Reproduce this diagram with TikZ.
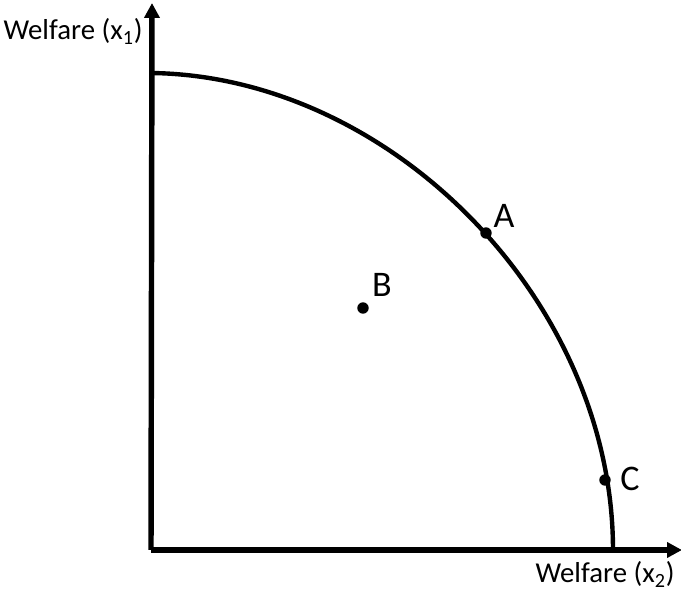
\documentclass[tikz,border=0pt]{standalone}
\usepackage{fontspec}
\setmainfont{Carlito}
\usetikzlibrary{arrows.meta}

\begin{document}
\begin{tikzpicture}[x=0.02cm, y=0.02cm,
  axis/.style={line width=3.1pt, -{Triangle[length=8.5pt,width=8.5pt]}},
  frontier/.style={line width=2.5pt},
  dot/.style={circle, fill, inner sep=0pt, minimum size=6.5pt},
  axlabel/.style={font=\fontsize{16.4}{19}\selectfont, inner sep=0pt},
  ptlabel/.style={font=\fontsize{20.5}{24}\selectfont, inner sep=0pt}]
\useasboundingbox (0,0) rectangle (681,592);
\coordinate (O) at (151,42);
\coordinate (ytip) at (152,589);
\coordinate (xtip) at (682,42);
\coordinate (top) at (151,519);
\coordinate (bot) at (613,42);
\draw[axis] (O) -- (ytip);
\draw[axis] (O) -- (xtip);
\draw[frontier] (top) .. controls (392,516) and (613,290) .. (bot);
\node[axlabel, anchor=base east] (ylab) at (143,552) {Welfare (x\textsubscript{1})};
\node[axlabel, anchor=base east] (xlab) at (675,9) {Welfare (x\textsubscript{2})};
\foreach \n/\x/\y/\dx/\dy in {A/486/359/18/17, B/363/284/19/23, C/605/112/25/1} {
  \node[dot] (\n) at (\x,\y) {};
  \node[ptlabel] (\n-lbl) at ([shift={(\dx,\dy)}]\n) {\n};
}
\end{tikzpicture}
\end{document}
